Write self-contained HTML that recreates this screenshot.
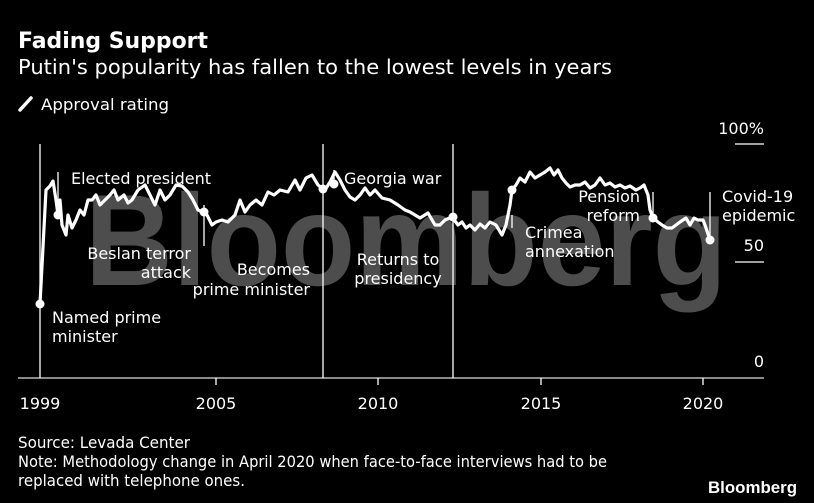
<!DOCTYPE html>
<html><head><meta charset="utf-8"><style>
html,body{margin:0;padding:0;background:#000;}
svg{display:block}
text{font-family:"DejaVu Sans","Liberation Sans",sans-serif;fill:#fff;}
</style></head><body>
<svg width="814" height="503" viewBox="0 0 814 503" xmlns="http://www.w3.org/2000/svg">
<rect width="814" height="503" fill="#000"/>
<text x="18" y="48" font-size="22" font-weight="bold" textLength="190" lengthAdjust="spacingAndGlyphs">Fading Support</text>
<text x="18" y="74" font-size="20" textLength="594" lengthAdjust="spacingAndGlyphs">Putin's popularity has fallen to the lowest levels in years</text>
<line x1="20" y1="110" x2="31" y2="98" stroke="#fff" stroke-width="3.5" stroke-linecap="round"/>
<text x="41" y="110" font-size="16" textLength="128" lengthAdjust="spacingAndGlyphs">Approval rating</text>

<text x="85" y="285" font-size="130" font-weight="bold" fill="#4d4d4d" style="fill:#4d4d4d;font-family:'Liberation Sans',sans-serif" textLength="642" lengthAdjust="spacingAndGlyphs">Bloomberg</text>

<g stroke="#fff" stroke-width="1.3" fill="none">
<line x1="18" y1="378" x2="764" y2="378" stroke="#ddd"/>
<line x1="216" y1="378" x2="216" y2="385"/><line x1="378" y1="378" x2="378" y2="385"/>
<line x1="541" y1="378" x2="541" y2="385"/><line x1="703" y1="378" x2="703" y2="385"/>
<line x1="735" y1="144" x2="764" y2="144"/><line x1="735" y1="262" x2="764" y2="262"/>
<line x1="40" y1="144" x2="40" y2="378"/>
<line x1="323" y1="144" x2="323" y2="378"/>
<line x1="453" y1="144" x2="453" y2="378"/>
<line x1="58" y1="172" x2="58" y2="215"/>
<line x1="204" y1="205" x2="204" y2="246"/>
<line x1="334" y1="170" x2="334" y2="185"/>
<line x1="512" y1="215" x2="512" y2="228"/>
<line x1="653" y1="192" x2="653" y2="215"/>
<line x1="710" y1="192" x2="710" y2="240"/>
</g>
<polyline fill="none" stroke="#fff" stroke-width="3.2" stroke-linejoin="round" points="40,304 46,190 50,186 53,181 56,200 58,215 60,200 62,225 66,235 68,215 72,228 76,220 80,210 84,215 88,200 92,200 96,195 100,205 105,200 110,195 114,190 118,200 124,195 128,203 132,200 138,190 145,185 150,195 155,205 160,190 165,200 170,195 176,185 182,186 188,192 193,200 198,210 203,212 207,215 212,225 216,222 222,220 228,222 235,215 240,200 245,212 250,205 256,200 262,205 268,192 274,195 280,190 288,192 295,180 300,190 306,178 312,175 318,185 322,188 325,190 330,182 335,172 340,180 345,190 350,197 355,200 360,195 365,188 370,195 375,190 382,198 390,200 398,205 405,210 410,212 415,215 420,218 428,213 435,225 440,225 445,220 452,217 458,225 462,222 466,228 470,225 475,230 480,224 485,228 490,222 496,225 502,235 506,225 510,205 512,190 516,185 520,178 525,182 530,172 535,178 540,175 545,172 550,168 554,175 558,170 562,178 566,183 570,187 575,185 580,185 585,182 590,188 595,185 600,178 605,185 610,183 615,187 620,185 625,188 630,186 636,190 640,188 644,185 648,195 650,210 653,218 658,222 662,225 667,228 672,228 676,225 680,222 686,218 690,225 694,218 698,220 703,220 705,225 710,240"/>
<g fill="#fff">
<circle cx="40" cy="304" r="4.5"/><circle cx="58" cy="215" r="4.5"/><circle cx="204" cy="212" r="4.5"/>
<circle cx="323" cy="189" r="4.5"/><circle cx="334" cy="184" r="4.5"/><circle cx="453" cy="217" r="4.5"/>
<circle cx="512" cy="190" r="4.5"/><circle cx="653" cy="218" r="4.5"/><circle cx="710" cy="240" r="4.5"/>
</g>
<g font-size="16">
<text x="71" y="184">Elected president</text>
<text x="191" y="259" text-anchor="end">Beslan terror</text>
<text x="191" y="278" text-anchor="end">attack</text>
<text x="310" y="275" text-anchor="end">Becomes</text>
<text x="310" y="295" text-anchor="end">prime minister</text>
<text x="52" y="323">Named prime</text>
<text x="52" y="342">minister</text>
<text x="344" y="184">Georgia war</text>
<text x="398" y="265" text-anchor="middle">Returns to</text>
<text x="398" y="284" text-anchor="middle">presidency</text>
<text x="525" y="238">Crimea</text>
<text x="525" y="257">annexation</text>
<text x="640" y="202" text-anchor="end">Pension</text>
<text x="640" y="221" text-anchor="end">reform</text>
<text x="722" y="202">Covid-19</text>
<text x="722" y="221">epidemic</text>
<text x="764" y="134" text-anchor="end">100%</text>
<text x="764" y="251" text-anchor="end">50</text>
<text x="764" y="367" text-anchor="end">0</text>
<text x="40" y="409" text-anchor="middle">1999</text>
<text x="216" y="409" text-anchor="middle">2005</text>
<text x="378" y="409" text-anchor="middle">2010</text>
<text x="541" y="409" text-anchor="middle">2015</text>
<text x="703" y="409" text-anchor="middle">2020</text>
<text x="18" y="448" textLength="172" lengthAdjust="spacingAndGlyphs">Source: Levada Center</text>
<text x="18" y="467" textLength="589" lengthAdjust="spacingAndGlyphs">Note: Methodology change in April 2020 when face-to-face interviews had to be</text>
<text x="18" y="486" textLength="227" lengthAdjust="spacingAndGlyphs">replaced with telephone ones.</text>
</g>
<text x="797" y="493" font-size="17" font-weight="bold" text-anchor="end" style="font-family:'Liberation Sans',sans-serif" textLength="89" lengthAdjust="spacingAndGlyphs">Bloomberg</text>
</svg>
</body></html>
